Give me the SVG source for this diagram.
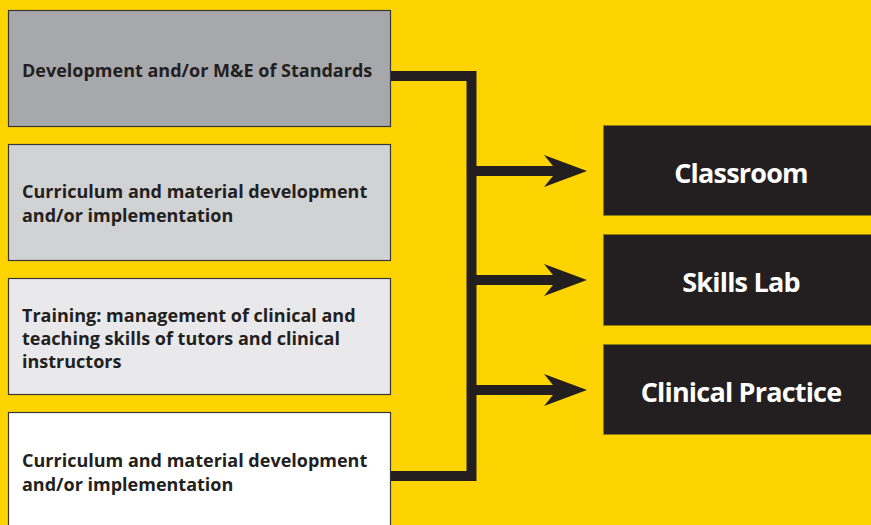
<svg xmlns="http://www.w3.org/2000/svg" width="871" height="525" viewBox="0 0 871 525">
  <defs>
    <style>
      .src { stroke: #3a3637; stroke-width: 1.2; }
      .src-text { font-family: "Open Sans", "Noto Sans", sans-serif; font-weight: 700; font-size: 18px; letter-spacing: 0px; fill: #231f20; }
      .dst { fill: #231f20; stroke: #8a7a10; stroke-width: 0.8; }
      .dst-text { font-family: "Open Sans", "Noto Sans", sans-serif; font-weight: 700; font-size: 27px; letter-spacing: -0.8px; fill: #ffffff; text-anchor: middle; }
      .wire { fill: none; stroke: #231f20; stroke-width: 10; }
      .head { fill: #231f20; }
    </style>
  </defs>

  <rect x="0" y="0" width="871" height="525" fill="#fdd400"/>

  <!-- connectors: bus line with three arrows -->
  <g id="connectors">
    <polyline class="wire" points="391,76 471.5,76 471.5,476 391,476"/>
    <line class="wire" x1="471.5" y1="171" x2="560" y2="171"/>
    <line class="wire" x1="471.5" y1="280" x2="560" y2="280"/>
    <line class="wire" x1="471.5" y1="390" x2="560" y2="390"/>
    <polygon class="head" points="544,155 587,171 544,187 557,171"/>
    <polygon class="head" points="544,264 587,280 544,296 557,280"/>
    <polygon class="head" points="544,374 587,390 544,406 557,390"/>
  </g>

  <!-- source boxes -->
  <g id="standards">
    <rect class="src" x="8.5" y="10.5" width="382" height="116" fill="#a7a8ab"/>
    <text class="src-text" x="22" y="77" letter-spacing="0.15">Development and/or M&amp;E of Standards</text>
  </g>
  <g id="curriculum-1">
    <rect class="src" x="8.5" y="144.5" width="382" height="116" fill="#d1d2d4"/>
    <text class="src-text" x="22" y="198">Curriculum and material development</text>
    <text class="src-text" x="22" y="222">and/or implementation</text>
  </g>
  <g id="training">
    <rect class="src" x="8.5" y="278.5" width="382" height="116" fill="#e9e9eb"/>
    <text class="src-text" x="22" y="322">Training: management of clinical and</text>
    <text class="src-text" x="22" y="345">teaching skills of tutors and clinical</text>
    <text class="src-text" x="22" y="368">instructors</text>
  </g>
  <g id="curriculum-2">
    <rect class="src" x="8.5" y="412.5" width="382" height="120" fill="#ffffff"/>
    <text class="src-text" x="22" y="467">Curriculum and material development</text>
    <text class="src-text" x="22" y="491">and/or implementation</text>
  </g>

  <!-- destination boxes -->
  <g id="classroom">
    <rect class="dst" x="603.5" y="125.5" width="270" height="90"/>
    <text class="dst-text" x="741" y="183">Classroom</text>
  </g>
  <g id="skills-lab">
    <rect class="dst" x="603.5" y="234.5" width="270" height="91"/>
    <text class="dst-text" x="741" y="292">Skills Lab</text>
  </g>
  <g id="clinical-practice">
    <rect class="dst" x="603.5" y="344.5" width="270" height="90"/>
    <text class="dst-text" x="741" y="402">Clinical Practice</text>
  </g>
</svg>
